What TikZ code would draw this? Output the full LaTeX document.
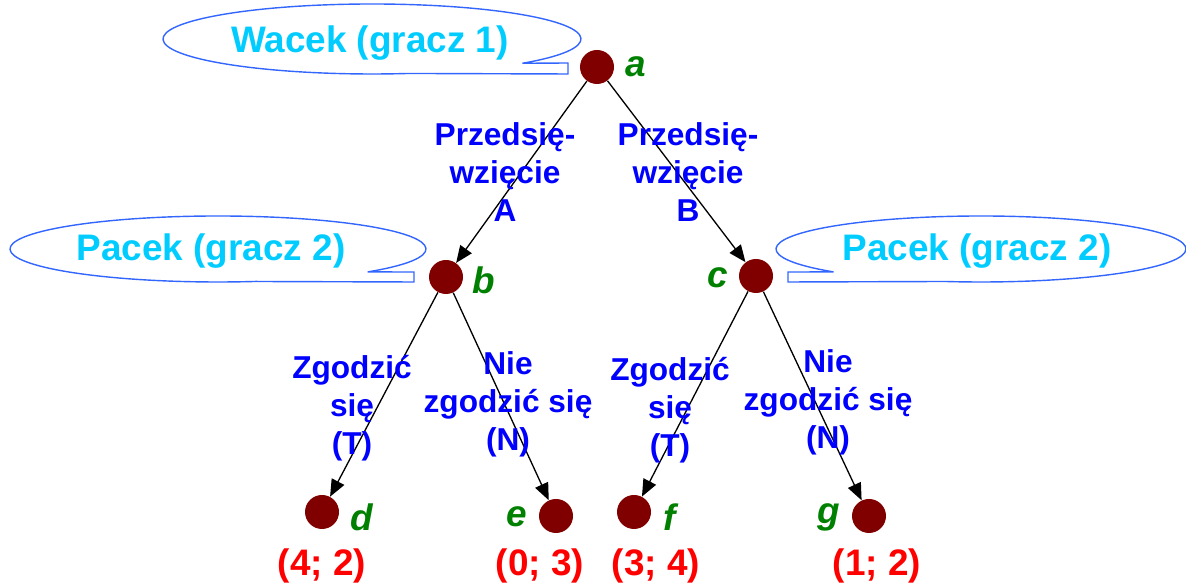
\documentclass[tikz,border=0pt]{standalone}
\usepackage{fontspec}
\setmainfont{Liberation Sans}
\usepackage{xcolor}
\usetikzlibrary{arrows.meta,positioning,calc}

\definecolor{nodered}{RGB}{128,0,0}
\definecolor{lblgreen}{RGB}{0,128,0}
\definecolor{moveblue}{RGB}{0,0,255}
\definecolor{calloutblue}{RGB}{51,102,255}
\definecolor{playercyan}{RGB}{0,204,255}

\begin{document}
\begin{tikzpicture}[
    decpt/.style={circle, fill=nodered, minimum size=0.68cm, inner sep=0pt},
    lbl/.style={font=\fontsize{21}{25}\selectfont\bfseries\itshape, text=lblgreen, inner sep=0pt},
    move/.style={font=\fontsize{18}{21.6}\selectfont\bfseries, text=moveblue, align=center},
    pay/.style={font=\fontsize{21}{25}\selectfont\bfseries, text=red},
    who/.style={font=\fontsize{21}{25}\selectfont\bfseries, text=playercyan},
    bubble/.style={draw=calloutblue, line width=0.8pt},
    edge/.style={-{Triangle[length=0.34cm, width=0.28cm]}, line width=0.75pt}
]
    \useasboundingbox (0, 0) rectangle (23.72, 11.70);

    % Decision points
    \node[decpt] (a) at (11.94, 10.36) {};
    \node[decpt] (b) at (8.92, 6.16) {};
    \node[decpt] (c) at (15.12, 6.18) {};
    \node[decpt] (d) at (6.44, 1.46) {};
    \node[decpt] (e) at (11.12, 1.38) {};
    \node[decpt] (f) at (12.68, 1.46) {};
    \node[decpt] (g) at (17.38, 1.38) {};

    % Point names
    \node[lbl, right=0.22cm of a] (la) {a};
    \node[lbl, right=0.18cm of b, yshift=-0.06cm] (lb) {b};
    \node[lbl, left=0.2cm of c, yshift=-0.04cm] (lc) {c};
    \node[lbl, right=0.22cm of d, yshift=-0.1cm] (ld) {d};
    \node[lbl, left=0.22cm of e, yshift=-0.02cm] (le) {e};
    \node[lbl, right=0.24cm of f, yshift=-0.1cm] (lf) {f};
    \node[lbl, left=0.22cm of g, yshift=-0.02cm] (lg) {g};

    % Moves
    \draw[edge] (a) -- (b);
    \draw[edge] (a) -- (c);
    \draw[edge] (b) -- (d);
    \draw[edge] (b) -- (e);
    \draw[edge] (c) -- (f);
    \draw[edge] (c) -- (g);

    \node[move] (mA) at (10.10, 8.26) {Przedsię-\\wzięcie\\A};
    \node[move] (mB) at (13.76, 8.26) {Przedsię-\\wzięcie\\B};
    \node[move] (mbT) at (7.04, 3.54) {Zgodzić\\się\\(T)};
    \node[move] (mbN) at (10.16, 3.62) {Nie\\zgodzić się\\(N)};
    \node[move] (mcT) at (13.40, 3.50) {Zgodzić\\się\\(T)};
    \node[move] (mcN) at (16.56, 3.66) {Nie\\zgodzić się\\(N)};

    % Payoffs
    \node[pay] (pd) at (6.44, 0.38) {(4; 2)};
    \node[pay] (pe) at (10.80, 0.38) {(0; 3)};
    \node[pay] (pf) at (13.12, 0.38) {(3; 4)};
    \node[pay] (pg) at (17.54, 0.38) {(1; 2)};

    % Callouts
    \coordinate (w1) at (7.44, 10.92);
    \draw[bubble] ($(w1)+(-80:4.18 and 0.70)$) -- (11.36, 10.22) -- (11.36, 10.44)
        -- ($(w1)+(-44:4.18 and 0.70)$)
        arc[start angle=-44, end angle=280, x radius=4.18cm, y radius=0.70cm] -- cycle;
    \node[who] (wacek) at (7.40, 10.84) {Wacek (gracz 1)};

    \coordinate (w2) at (4.36, 6.72);
    \draw[bubble] ($(w2)+(-80:4.16 and 0.66)$) -- (8.28, 6.06) -- (8.28, 6.26)
        -- ($(w2)+(-44:4.16 and 0.66)$)
        arc[start angle=-44, end angle=280, x radius=4.16cm, y radius=0.66cm] -- cycle;
    \node[who] (pacekL) at (4.22, 6.68) {Pacek (gracz 2)};

    \coordinate (w3) at (19.62, 6.72);
    \draw[bubble] ($(w3)+(260:4.10 and 0.66)$) -- (15.76, 6.06) -- (15.76, 6.26)
        -- ($(w3)+(224:4.10 and 0.66)$)
        arc[start angle=224, end angle=-100, x radius=4.10cm, y radius=0.66cm] -- cycle;
    \node[who] (pacekR) at (19.54, 6.68) {Pacek (gracz 2)};
\end{tikzpicture}
\end{document}
